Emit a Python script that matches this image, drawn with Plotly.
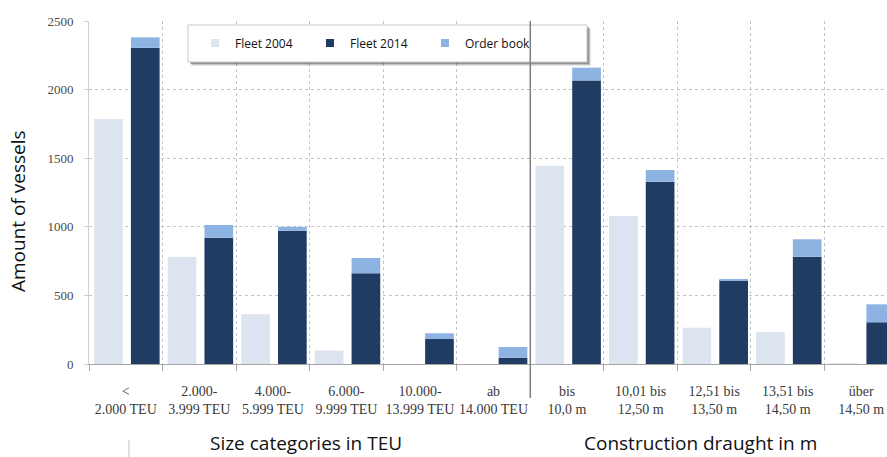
import plotly.graph_objects as go

# Container vessel fleet by size class and by construction draught
categories = [
    "&lt;<br>2.000 TEU",
    "2.000-<br>3.999 TEU",
    "4.000-<br>5.999 TEU",
    "6.000-<br>9.999 TEU",
    "10.000-<br>13.999 TEU",
    "ab<br>14.000 TEU",
    "bis<br>10,0 m",
    "10,01 bis<br>12,50 m",
    "12,51 bis<br>13,50 m",
    "13,51 bis<br>14,50 m",
    "über<br>14,50 m",
]
fleet_2004 = [1785, 780, 362, 98, 0, 0, 1445, 1078, 265, 233, 5]
fleet_2014 = [2305, 921, 970, 661, 182, 46, 2067, 1329, 612, 782, 304]
order_book = [76, 92, 30, 112, 42, 78, 93, 85, 8, 127, 131]
y_ticks = [0, 500, 1000, 1500, 2000, 2500]

C_2004 = "#dce4f0"
C_2014 = "#213c63"
C_ORDER = "#8db3e2"

W, H = 887, 457
ML, MR, MT, MB = 89, 0, 21, 93
PW, PH = W - ML - MR, H - MT - MB
X_RANGE = [-0.5, 10.35]
Y_RANGE = [0, 2500]


def px_x(px):
    return (px - ML) / PW


def px_y(py):
    return (H - MB - py) / PH


idx = list(range(len(categories)))
bar_w = 0.39

fig = go.Figure()
fig.add_trace(go.Bar(x=idx, y=fleet_2004, offset=-0.43, width=bar_w,
                     marker=dict(color=C_2004, line_width=0), showlegend=False))
fig.add_trace(go.Bar(x=idx, y=fleet_2014, offset=0.07, width=bar_w,
                     marker=dict(color=C_2014, line_width=0), showlegend=False))
fig.add_trace(go.Bar(x=idx, y=order_book, base=fleet_2014, offset=0.07, width=bar_w,
                     marker=dict(color=C_ORDER, line_width=0), showlegend=False))

# legend entries with small square keys
for name, col in [("Fleet 2004", C_2004), ("Fleet 2014", C_2014), ("Order book", C_ORDER)]:
    fig.add_trace(go.Scatter(x=[None], y=[None], mode="markers", name=name,
                             marker=dict(symbol="square", size=8, color=col)))

shapes = []
# legend frame with soft shadow
lx0, lx1, ly0, ly1 = 188, 587, 25, 62
for off, col in [(4, "rgba(0,0,0,0.10)"), (3, "rgba(0,0,0,0.15)"), (2, "rgba(0,0,0,0.25)")]:
    shapes.append(dict(type="rect", xref="paper", yref="paper", layer="above",
                       x0=px_x(lx0 + off), x1=px_x(lx1 + off),
                       y0=px_y(ly1 + off), y1=px_y(ly0 + off),
                       fillcolor=col, line_width=0))
shapes.append(dict(type="rect", xref="paper", yref="paper", layer="above",
                   x0=px_x(lx0), x1=px_x(lx1), y0=px_y(ly1), y1=px_y(ly0),
                   fillcolor="white", line=dict(color="#c8c8c8", width=1)))
# divider between the two groups of categories
shapes.append(dict(type="line", xref="x", yref="paper", layer="above",
                   x0=5.5, x1=5.5, y0=px_y(398), y1=1.0,
                   line=dict(color="#7f7f7f", width=1.5)))
# small mark below the axis labels
shapes.append(dict(type="line", xref="paper", yref="paper",
                   x0=px_x(129), x1=px_x(129), y0=px_y(457), y1=px_y(440),
                   line=dict(color="#c0c0c0", width=1)))

title_font = dict(family="Open Sans", size=19, color="#111111")
annotations = [
    dict(text="Size categories in TEU", xref="paper", yref="paper",
         x=px_x(306), y=px_y(443), xanchor="center", yanchor="middle", showarrow=False,
         font=title_font),
    dict(text="Construction draught in m", xref="paper", yref="paper",
         x=px_x(700), y=px_y(443), xanchor="center", yanchor="middle", showarrow=False,
         font=title_font),
    dict(text="Amount of vessels", xref="paper", yref="paper", textangle=-90,
         x=px_x(18), y=px_y(211), xanchor="center", yanchor="middle", showarrow=False,
         font=title_font),
]

fig.update_layout(
    width=W, height=H,
    margin=dict(l=ML, r=MR, t=MT, b=MB),
    paper_bgcolor="white", plot_bgcolor="white",
    barmode="overlay",
    shapes=shapes,
    annotations=annotations,
    legend=dict(orientation="h", x=px_x(195), y=px_y(43), xanchor="left", yanchor="middle",
                bgcolor="rgba(0,0,0,0)", borderwidth=0, entrywidth=70,
                font=dict(family="Open Sans", size=12, color="#111111")),
    xaxis=dict(
        range=X_RANGE, tickmode="array", tickvals=idx, ticktext=categories,
        ticks="", showgrid=False, zeroline=False,
        showline=True, linecolor="#a6a6a6", linewidth=1,
        ticklabelstandoff=14,
        tickfont=dict(family="Liberation Serif", size=14, color="#3a3a3a"),
        minor=dict(tickmode="linear", tick0=0.5, dtick=1, ticks="outside", ticklen=6,
                   tickcolor="#a6a6a6", showgrid=True, gridcolor="#c4c4c4",
                   griddash="dot", gridwidth=1),
    ),
    yaxis=dict(
        range=Y_RANGE, tickmode="array", tickvals=y_ticks,
        ticks="outside", ticklen=4, tickcolor="#cfcfcf",
        showgrid=True, gridcolor="#c4c4c4", griddash="dot", gridwidth=1,
        zeroline=False, showline=True, linecolor="#d0d0d0", linewidth=1,
        ticklabelstandoff=8,
        tickfont=dict(family="Liberation Serif", size=13, color="#4a4a4a"),
    ),
)

fig.write_html("out.html")
